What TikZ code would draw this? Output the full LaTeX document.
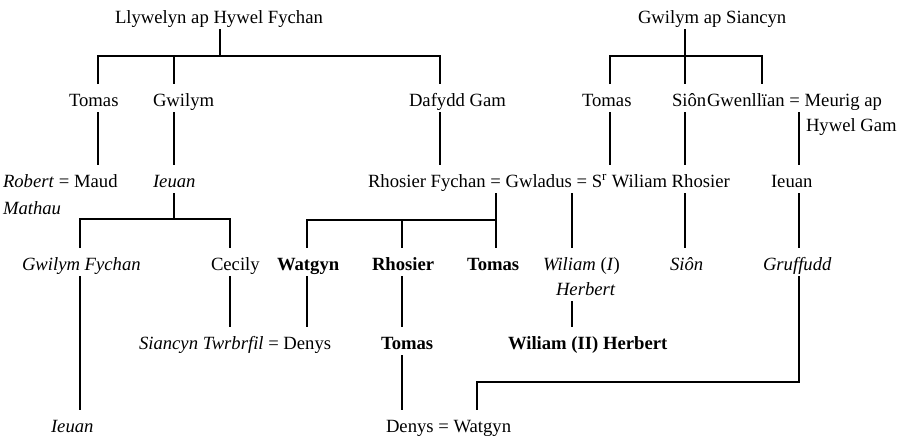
\documentclass[tikz,border=0pt]{standalone}
\usepackage{fontspec}
\setmainfont{Liberation Serif}[BoldFont={Liberation Serif Bold},ItalicFont={Liberation Serif Italic}]
\begin{document}
\begin{tikzpicture}[x=0.75pt,y=-0.75pt,
  every node/.style={inner sep=0pt,outer sep=0pt,anchor=base west,font=\rmfamily\fontsize{14pt}{16pt}\selectfont,
    text height=16.5pt,text depth=4.5pt},
  link/.style={line width=1.6pt,line cap=butt}]
\useasboundingbox (0,0) rectangle (903,436);
% row 1
\node (llyw) at (115,23) {Llywelyn ap Hywel Fychan};
\node (gsian) at (638,23) {Gwilym ap Siancyn};
% row 2
\node (tomasA) at (69,106) {Tomas};
\node (gwilym) at (153,106) {Gwilym};
\node (dafydd) at (409,106) {Dafydd Gam};
\node (tomasB) at (582,106) {Tomas};
\node (sionA) at (672,106) {Siôn};
\node (gwenll) at (707,106) {Gwenllïan = Meurig ap};
\node (hywelgam) at (806,131) {Hywel Gam};
% row 3
\node (robert) at (3,187) {\textit{Robert} = Maud};
\node (mathau) at (3,214) {\textit{Mathau}};
\node (ieuanA) at (153,187) {\textit{Ieuan}};
\node (rhosierF) at (368,187) {Rhosier Fychan = Gwladus = S\textsuperscript{r} Wiliam Rhosier};
\node (ieuanB) at (771,187) {Ieuan};
% row 4
\node (gwilymF) at (22,270) {\textit{Gwilym Fychan}};
\node (cecily) at (211,270) {Cecily};
\node (watgynB) at (277,270) {\textbf{Watgyn}};
\node (rhosierB) at (372,270) {\textbf{Rhosier}};
\node (tomasBold) at (467,270) {\textbf{Tomas}};
\node (wiliamI) at (543,270) {\textit{Wiliam} (\textit{I})};
\node (herbert) at (556,295) {\textit{Herbert}};
\node (sionB) at (670,270) {\textit{Siôn}};
\node (gruffudd) at (763,270) {\textit{Gruffudd}};
% row 5
\node (siancyn) at (139,349) {\textit{Siancyn Twrbrfil} = Denys};
\node (tomasC) at (381,349) {\textbf{Tomas}};
\node (wiliamII) at (508,349) {\textbf{Wiliam (II) Herbert}};
% row 6
\node (ieuanC) at (51,432) {\textit{Ieuan}};
\node (denys) at (386,432) {Denys = Watgyn};
% bus coordinates
\coordinate (busA) at (220,56);
\coordinate (busB) at (685,56);
\coordinate (busC) at (174,219);
\coordinate (busD) at (496,220);
\coordinate (busE) at (799,382);
% connectors
\draw[link] (llyw.south -| busA) -- (busA);
\draw[link] (tomasA.north -| 98,0) |- (busA) -| (dafydd.north -| 440,0);
\draw[link] (busA -| 174,0) -- (gwilym.north -| 174,0);
\draw[link] (gsian.south -| busB) -- (busB);
\draw[link] (tomasB.north -| 610,0) |- (busB) -| (gwenll.north -| 762,0);
\draw[link] (busB) -- (sionA.north -| busB);
\draw[link] (tomasA.south -| 98,0) -- (robert.north -| 98,0);
\draw[link] (gwilym.south -| 174,0) -- (ieuanA.north -| 174,0);
\draw[link] (dafydd.south -| 440,0) -- (rhosierF.north -| 440,0);
\draw[link] (tomasB.south -| 610,0) -- (rhosierF.north -| 610,0);
\draw[link] (sionA.south -| 685,0) -- (rhosierF.north -| 685,0);
\draw[link] (gwenll.south -| 799,0) -- (ieuanB.north -| 799,0);
\draw[link] (ieuanA.south -| busC) -- (busC);
\draw[link] (gwilymF.north -| 80,0) |- (busC) -| (cecily.north -| 230,0);
\draw[link] (rhosierF.south -| busD) -- (tomasBold.north -| busD);
\draw[link] (busD) -| (watgynB.north -| 307,0);
\draw[link] (busD -| 402,0) -- (rhosierB.north -| 402,0);
\draw[link] (rhosierF.south -| 572,0) -- (wiliamI.north -| 572,0);
\draw[link] (rhosierF.south -| 685,0) -- (sionB.north -| 685,0);
\draw[link] (ieuanB.south -| 799,0) -- (gruffudd.north -| 799,0);
\draw[link] (gwilymF.south -| 80,0) -- (ieuanC.north -| 80,0);
\draw[link] (cecily.south -| 230,0) -- (siancyn.north -| 230,0);
\draw[link] (watgynB.south -| 307,0) -- (siancyn.north -| 307,0);
\draw[link] (rhosierB.south -| 402,0) -- (tomasC.north -| 402,0);
\draw[link] (herbert.south -| 572,0) -- (wiliamII.north -| 572,0);
\draw[link] (tomasC.south -| 402,0) -- (denys.north -| 402,0);
\draw[link] (gruffudd.south -| busE) -- (busE) -| (denys.north -| 477,0);
\end{tikzpicture}
\end{document}
